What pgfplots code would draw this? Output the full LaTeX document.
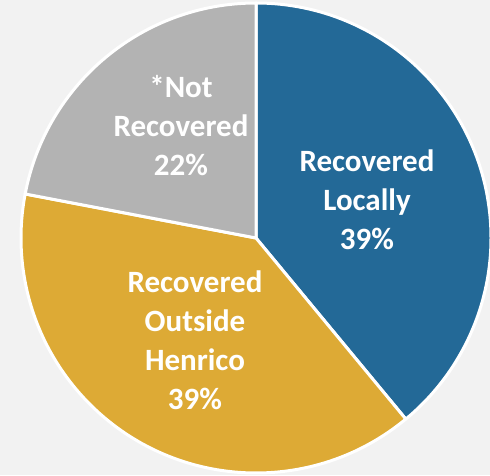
\documentclass[border=0pt]{standalone}
\usepackage{pgfplots}
\usepackage{pgfplotstable}
\pgfplotsset{compat=1.18}
\usepackage{fontspec}
\setmainfont{Carlito}
\definecolor{bgc}{HTML}{F2F2F2}
\definecolor{cblue}{HTML}{236997}
\definecolor{cgold}{HTML}{DDAA35}
\definecolor{cgray}{HTML}{B3B3B3}

% share of each slice, clockwise from 12 o'clock
\pgfplotstableread{
label value
Locally 39
Outside 39
NotRec 22
}\piedata

\begin{document}
\begin{tikzpicture}
\pgfplotstablegetelem{0}{value}\of\piedata \let\va\pgfplotsretval
\pgfplotstablegetelem{1}{value}\of\piedata \let\vb\pgfplotsretval
\pgfplotstablegetelem{2}{value}\of\piedata \let\vc\pgfplotsretval
\pgfmathsetmacro\aA{90}
\pgfmathsetmacro\aB{\aA-3.6*\va}
\pgfmathsetmacro\aC{\aB-3.6*\vb}
\pgfmathsetmacro\aD{\aC-3.6*\vc}
\def\R{235pt}
\begin{axis}[
  scale only axis,
  width=490pt, height=475pt,
  xmin=-256, xmax=234, ymin=-237, ymax=238,
  hide axis,
  clip=true,
]
\fill[bgc] (axis cs:-256,-237) rectangle (axis cs:234,238);
\filldraw[fill=cblue, draw=white, line width=3pt, line join=round]
  (axis cs:0,0) -- ++(\aA:\R) arc[start angle=\aA, end angle=\aB, radius=\R] -- cycle;
\filldraw[fill=cgold, draw=white, line width=3pt, line join=round]
  (axis cs:0,0) -- ++(\aB:\R) arc[start angle=\aB, end angle=\aC, radius=\R] -- cycle;
\filldraw[fill=cgray, draw=white, line width=3pt, line join=round]
  (axis cs:0,0) -- ++(\aC:\R) arc[start angle=\aC, end angle=\aD, radius=\R] -- cycle;
\tikzset{lbl/.style={text=white, align=center, font=\fontsize{31}{39}\selectfont\bfseries}}
\node[lbl] at (axis cs:111,38) {Recovered\\Locally\\39\%};
\node[lbl] at (axis cs:-61,-102) {Recovered\\Outside\\Henrico\\39\%};
\node[lbl] at (axis cs:-75,112) {*Not\\Recovered\\22\%};
\end{axis}
\pgfresetboundingbox
\path (current axis.south west) rectangle (current axis.north east);
\end{tikzpicture}
\end{document}
